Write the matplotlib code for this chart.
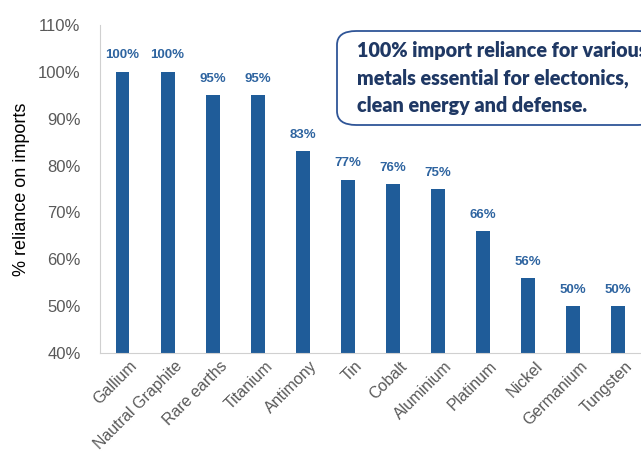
import matplotlib
matplotlib.use("Agg")
import matplotlib.pyplot as plt
from matplotlib.patches import FancyBboxPatch
from matplotlib.ticker import PercentFormatter
from matplotlib.transforms import ScaledTranslation

categories = ["Gallium", "Nautral Graphite", "Rare earths", "Titanium", "Antimony", "Tin",
              "Cobalt", "Aluminium", "Platinum", "Nickel", "Germanium", "Tungsten"]
values = [100, 100, 95, 95, 83, 77, 76, 75, 66, 56, 50, 50]
yticks = [40, 50, 60, 70, 80, 90, 100, 110]

plt.rcParams['font.family'] = ['Liberation Sans', 'DejaVu Sans']

fig = plt.figure(figsize=(6.41, 4.62), dpi=100)
ax = fig.add_axes([0.156, 0.236, 0.843, 0.71])

bar_color = "#1F5C99"
x = list(range(len(categories)))
ax.bar(x, values, width=0.31, color=bar_color, zorder=2)
for xi, v in zip(x, values):
    ax.text(xi, v + 2.2, f"{v}%", ha="center", va="bottom", fontsize=9.5,
            fontweight="bold", color="#2E64A0")

ax.set_xlim(-0.5, 11.5)
ax.set_ylim(40, 110)
ax.set_yticks(yticks)
ax.yaxis.set_major_formatter(PercentFormatter(decimals=0))
ax.set_xticks(x)
ax.set_xticklabels(categories, rotation=45, ha="right", rotation_mode="anchor")
ax.tick_params(axis="both", length=0, colors="#595959", labelsize=12)
ax.tick_params(axis="x", labelsize=11.5, pad=4)
ax.tick_params(axis="y", pad=14)
offset = ScaledTranslation(7 / 100, 0, fig.dpi_scale_trans)
for lbl in ax.get_xticklabels():
    lbl.set_transform(lbl.get_transform() + offset)
for s in ["top", "right"]:
    ax.spines[s].set_visible(False)
for s in ["left", "bottom"]:
    ax.spines[s].set_color("#D0D0D0")
ax.set_ylabel("% reliance on imports", fontsize=13, color="black", labelpad=6)

box = FancyBboxPatch((337 / 641, 1 - 125 / 462), 320 / 641, 94 / 462,
                     boxstyle="round,pad=0,rounding_size=0.03",
                     transform=fig.transFigure, facecolor="white",
                     edgecolor="#2F5597", linewidth=1.3, zorder=5)
fig.patches.append(box)
fig.text(357 / 641, 1 - 78 / 462,
         "100% import reliance for various\nmetals essential for electonics,\nclean energy and defense.",
         fontsize=14.2, fontweight="heavy", color="#1F3864", va="center", ha="left",
         linespacing=1.5, family=["Lato", "DejaVu Sans"], zorder=6)

fig.savefig("out.png", dpi=100)
